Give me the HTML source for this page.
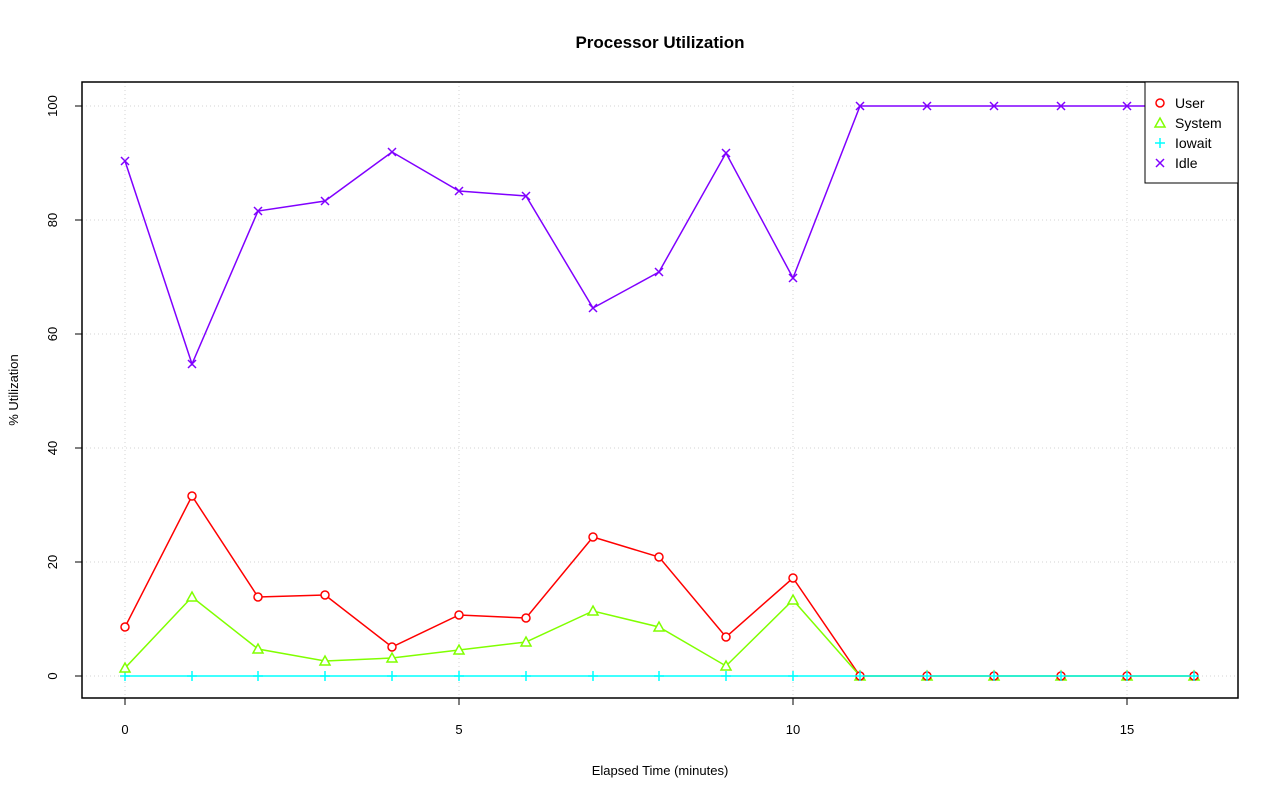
<!DOCTYPE html>
<html><head><style>body{margin:0;background:#fff}svg{display:block}text{font-family:"Liberation Sans",Arial,sans-serif}</style></head><body>
<svg width="1280" height="801" xmlns="http://www.w3.org/2000/svg">
<defs>
<path id="mx" d="M-4,-4l8,8M4,-4l-8,8" stroke="#8000ff" stroke-width="1.5" fill="none"/>
<path id="mp" d="M-5,0h10M0,-5v10" stroke="#00ffff" stroke-width="1.5" fill="none"/>
<polygon id="mt" points="0,-5 5,4 -5,4" fill="#fff" stroke="#80ff00" stroke-width="1.5"/>
<circle id="mc" r="4" fill="#fff" stroke="#ff0000" stroke-width="1.5"/>
</defs>
<rect width="1280" height="801" fill="#fff"/>
<text x="660" y="48" text-anchor="middle" font-size="17" font-weight="bold">Processor Utilization</text>
<g stroke="#d3d3d3" stroke-dasharray="1,3" stroke-width="1">
<line x1="125" y1="82" x2="125" y2="698"/><line x1="459" y1="82" x2="459" y2="698"/><line x1="793" y1="82" x2="793" y2="698"/><line x1="1127" y1="82" x2="1127" y2="698"/>
<line x1="82" y1="676" x2="1238" y2="676"/><line x1="82" y1="562" x2="1238" y2="562"/><line x1="82" y1="448" x2="1238" y2="448"/><line x1="82" y1="334" x2="1238" y2="334"/><line x1="82" y1="220" x2="1238" y2="220"/><line x1="82" y1="106" x2="1238" y2="106"/>
</g>
<rect x="82" y="82" width="1156" height="616" fill="none" stroke="#000" stroke-width="1.5"/>
<g stroke="#000"><line x1="125" y1="698" x2="125" y2="705"/><line x1="459" y1="698" x2="459" y2="705"/><line x1="793" y1="698" x2="793" y2="705"/><line x1="1127" y1="698" x2="1127" y2="705"/>
<line x1="75" y1="676" x2="82" y2="676"/><line x1="75" y1="562" x2="82" y2="562"/><line x1="75" y1="448" x2="82" y2="448"/><line x1="75" y1="334" x2="82" y2="334"/><line x1="75" y1="220" x2="82" y2="220"/><line x1="75" y1="106" x2="82" y2="106"/></g>
<g font-size="13" text-anchor="middle"><text x="125" y="734">0</text><text x="459" y="734">5</text><text x="793" y="734">10</text><text x="1127" y="734">15</text>
<text x="660" y="775">Elapsed Time (minutes)</text>
<text transform="translate(57,676) rotate(-90)">0</text><text transform="translate(57,562) rotate(-90)">20</text><text transform="translate(57,448) rotate(-90)">40</text><text transform="translate(57,334) rotate(-90)">60</text><text transform="translate(57,220) rotate(-90)">80</text><text transform="translate(57,106) rotate(-90)">100</text>
<text transform="translate(18,390) rotate(-90)">% Utilization</text></g>
<polyline fill="none" stroke="#8000ff" stroke-width="1.5" points="125,161 192,364 258,211 325,201 392,152 459,191 526,196 593,308 659,272 726,153 793,278 860,106 927,106 994,106 1061,106 1127,106 1194,106"/>
<polyline fill="none" stroke="#ff0000" stroke-width="1.5" points="125,627 192,496 258,597 325,595 392,647 459,615 526,618 593,537 659,557 726,637 793,578 860,676 927,676 994,676 1061,676 1127,676 1194,676"/>
<polyline fill="none" stroke="#80ff00" stroke-width="1.5" points="125,668 192,597 258,649 325,661 392,658 459,650 526,642 593,611 659,627 726,666 793,600 860,676 927,676 994,676 1061,676 1127,676 1194,676"/>
<polyline fill="none" stroke="#00ffff" stroke-width="1.5" points="125,676 1194,676"/>
<use href="#mx" x="125" y="161"/><use href="#mx" x="192" y="364"/><use href="#mx" x="258" y="211"/><use href="#mx" x="325" y="201"/><use href="#mx" x="392" y="152"/><use href="#mx" x="459" y="191"/><use href="#mx" x="526" y="196"/><use href="#mx" x="593" y="308"/><use href="#mx" x="659" y="272"/><use href="#mx" x="726" y="153"/><use href="#mx" x="793" y="278"/><use href="#mx" x="860" y="106"/><use href="#mx" x="927" y="106"/><use href="#mx" x="994" y="106"/><use href="#mx" x="1061" y="106"/><use href="#mx" x="1127" y="106"/><use href="#mx" x="1194" y="106"/>
<use href="#mp" x="125" y="676"/><use href="#mp" x="192" y="676"/><use href="#mp" x="258" y="676"/><use href="#mp" x="325" y="676"/><use href="#mp" x="392" y="676"/><use href="#mp" x="459" y="676"/><use href="#mp" x="526" y="676"/><use href="#mp" x="593" y="676"/><use href="#mp" x="659" y="676"/><use href="#mp" x="726" y="676"/><use href="#mp" x="793" y="676"/>
<use href="#mt" x="125" y="668"/><use href="#mt" x="192" y="597"/><use href="#mt" x="258" y="649"/><use href="#mt" x="325" y="661"/><use href="#mt" x="392" y="658"/><use href="#mt" x="459" y="650"/><use href="#mt" x="526" y="642"/><use href="#mt" x="593" y="611"/><use href="#mt" x="659" y="627"/><use href="#mt" x="726" y="666"/><use href="#mt" x="793" y="600"/><use href="#mt" x="860" y="676"/><use href="#mt" x="927" y="676"/><use href="#mt" x="994" y="676"/><use href="#mt" x="1061" y="676"/><use href="#mt" x="1127" y="676"/><use href="#mt" x="1194" y="676"/>
<use href="#mc" x="125" y="627"/><use href="#mc" x="192" y="496"/><use href="#mc" x="258" y="597"/><use href="#mc" x="325" y="595"/><use href="#mc" x="392" y="647"/><use href="#mc" x="459" y="615"/><use href="#mc" x="526" y="618"/><use href="#mc" x="593" y="537"/><use href="#mc" x="659" y="557"/><use href="#mc" x="726" y="637"/><use href="#mc" x="793" y="578"/><use href="#mc" x="860" y="676"/><use href="#mc" x="927" y="676"/><use href="#mc" x="994" y="676"/><use href="#mc" x="1061" y="676"/><use href="#mc" x="1127" y="676"/><use href="#mc" x="1194" y="676"/>
<use href="#mp" x="860" y="676"/><use href="#mp" x="927" y="676"/><use href="#mp" x="994" y="676"/><use href="#mp" x="1061" y="676"/><use href="#mp" x="1127" y="676"/><use href="#mp" x="1194" y="676"/>
<rect x="1145" y="82" width="93" height="101" fill="#fff" stroke="#000"/>
<g font-size="14"><text x="1175" y="108">User</text><text x="1175" y="128">System</text><text x="1175" y="148">Iowait</text><text x="1175" y="168">Idle</text></g>
<use href="#mc" x="1160" y="103"/><use href="#mt" x="1160" y="123"/><use href="#mp" x="1160" y="143"/><use href="#mx" x="1160" y="163"/>
</svg></body></html>
